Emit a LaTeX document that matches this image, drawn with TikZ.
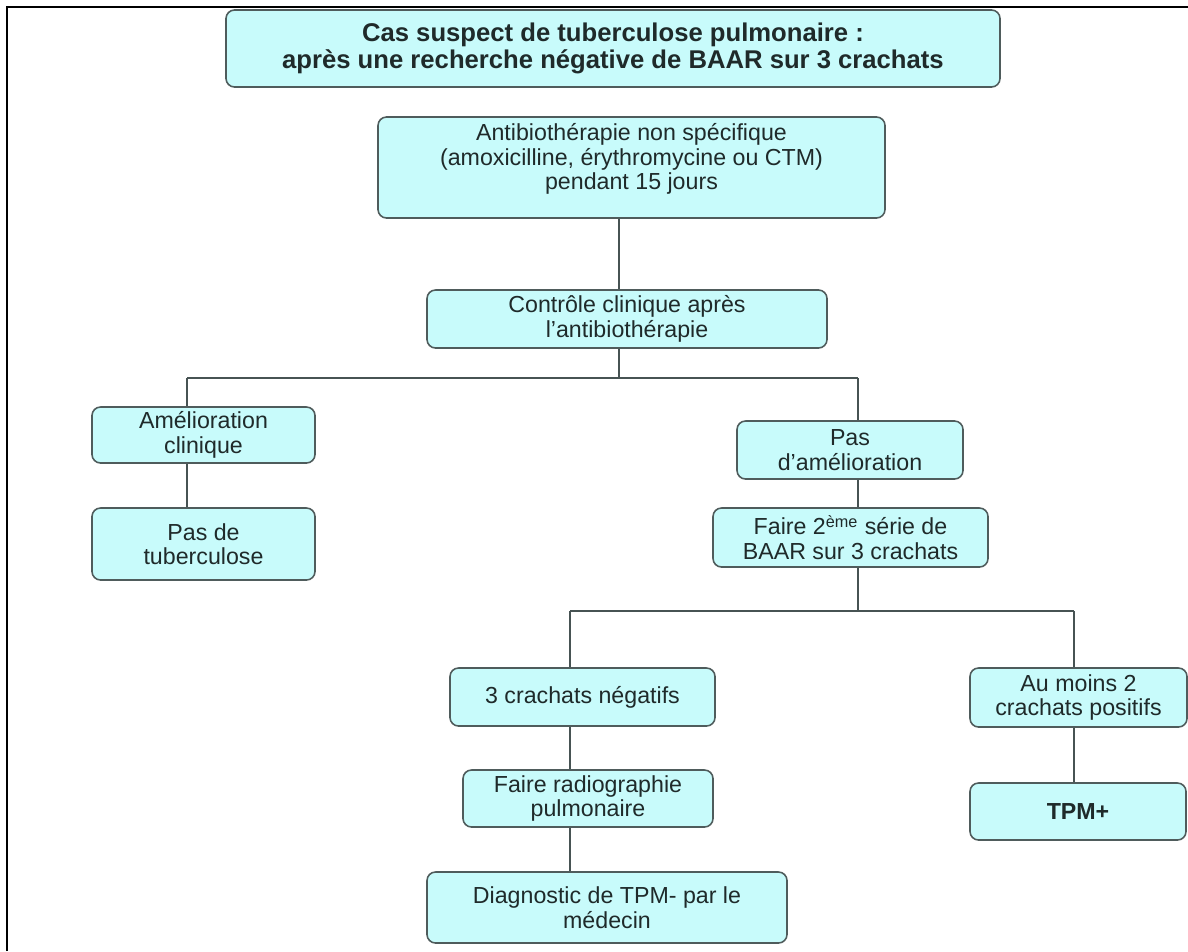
\documentclass[tikz,border=0pt]{standalone}
\usepackage{fontspec}
\setmainfont{Liberation Sans}
\usepackage{tikz}
\usetikzlibrary{positioning, calc}

\definecolor{fondcyan}{HTML}{C8FBFB}
\definecolor{bordgris}{HTML}{4F5C5C}
\definecolor{textegris}{HTML}{1F2A2A}

\tikzset{
  boite/.style={draw=bordgris, fill=fondcyan, line width=0.9pt, rounded corners=0.17cm,
    align=center, inner sep=0pt, text=textegris,
    font=\fontsize{13.2}{14}\selectfont},
  lien/.style={draw=bordgris!90!black, line width=1.1pt},
}

\begin{document}
\begin{tikzpicture}
                \useasboundingbox (0,0) rectangle (23.76,-19.02);
                % Cadre
                \draw[line width=1.5pt] (0.14,-19.02) -- (0.14,-0.14) -- (23.76,-0.14);

                % Titre
                \node[boite,minimum width=15.48cm,minimum height=1.54cm,font=\fontsize{14.6}{15}\selectfont\bfseries] (titre) at (12.26,-0.97)
                  {Cas suspect de tuberculose pulmonaire :\\après une recherche négative de BAAR sur 3 crachats};

                % Traitement
                \node[boite,minimum width=10.14cm,minimum height=2.02cm] (antibio) at (12.63,-3.35)
                  {Antibiothérapie non spécifique\\(amoxicilline, érythromycine ou CTM)\\pendant 15 jours\\[-6pt]\strut};
                \node[boite,minimum width=8.0cm,minimum height=1.16cm] (controle) at (12.54,-6.38)
                  {Contrôle clinique après\\l'antibiothérapie};

                % Branche gauche
                \node[boite,minimum width=4.46cm,minimum height=1.12cm] (amelio) at (4.07,-8.70)
                  {Amélioration\\clinique};
                \node[boite,minimum width=4.46cm,minimum height=1.44cm] (pastb) at (4.07,-10.88)
                  {Pas de\\tuberculose};

                % Branche droite
                \node[boite,minimum width=4.52cm,minimum height=1.16cm] (pasamelio) at (17.0,-9.0)
                  {Pas\\d'amélioration};
                \node[boite,minimum width=5.5cm,minimum height=1.18cm] (serie) at (17.01,-10.75)
                  {Faire 2\textsuperscript{ème} série de\\BAAR sur 3 crachats};
                \node[boite,minimum width=5.3cm,minimum height=1.16cm] (negatifs) at (11.65,-13.94)
                  {3 crachats négatifs};
                \node[boite,minimum width=5.0cm,minimum height=1.14cm] (radio) at (11.76,-15.97)
                  {Faire radiographie\\pulmonaire};
                \node[boite,minimum width=7.2cm,minimum height=1.42cm] (diag) at (12.14,-18.15)
                  {Diagnostic de TPM- par le\\médecin};
                \node[boite,minimum width=4.34cm,minimum height=1.18cm] (positifs) at (21.57,-13.95)
                  {Au moins 2\\crachats positifs};
                \node[boite,minimum width=4.32cm,minimum height=1.14cm] (tpm) at (21.56,-16.23)
                  {\bfseries TPM+};

                % Points de jonction
                \coordinate (jctrl) at (12.38,-7.56);
                \coordinate (jgauche) at (3.74,-7.56);
                \coordinate (jdroite) at (17.16,-7.56);
                \coordinate (jserie) at (17.16,-12.22);
                \coordinate (jneg) at (11.40,-12.22);
                \coordinate (jpos) at (21.48,-12.22);

                % Liaisons
                \draw[lien] (antibio.south -| jctrl) -- (controle.north -| jctrl);
                \draw[lien] (controle.south -| jctrl) -- (jctrl);
                \draw[lien] (jgauche) -- (jdroite);
                \draw[lien] (jgauche) -- (amelio.north -| jgauche);
                \draw[lien] (amelio.south -| jgauche) -- (pastb.north -| jgauche);
                \draw[lien] (jdroite) -- (pasamelio.north -| jdroite);
                \draw[lien] (pasamelio.south -| jdroite) -- (serie.north -| jdroite);
                \draw[lien] (serie.south -| jserie) -- (jserie);
                \draw[lien] (jneg) -- (jpos);
                \draw[lien] (jneg) -- (negatifs.north -| jneg);
                \draw[lien] (negatifs.south -| jneg) -- (radio.north -| jneg);
                \draw[lien] (radio.south -| jneg) -- (diag.north -| jneg);
                \draw[lien] (jpos) -- (positifs.north -| jpos);
                \draw[lien] (positifs.south -| jpos) -- (tpm.north -| jpos);
\end{tikzpicture}
\end{document}
